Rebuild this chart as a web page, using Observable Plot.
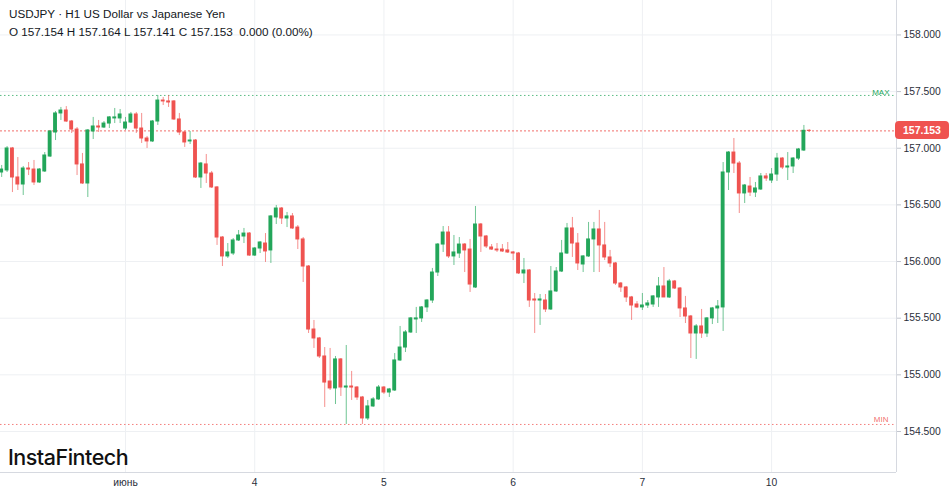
<!DOCTYPE html>
<html><head><meta charset="utf-8">
<script src="https://cdn.jsdelivr.net/npm/d3@7"></script>
<script src="https://cdn.jsdelivr.net/npm/@observablehq/plot@0.6"></script>
<style>
html,body{margin:0;padding:0;background:#fff;}
#wrap{position:relative;width:949px;height:494px;overflow:hidden;font-family:"Liberation Sans",Arial,sans-serif;}
.hdr{position:absolute;left:9px;font-size:11.7px;line-height:14px;color:#131722;white-space:pre;}
#logo{position:absolute;left:8px;top:446px;font-family:Inter,sans-serif;font-weight:500;font-size:21.5px;line-height:22px;color:#111;letter-spacing:-0.5px;}
#tag{position:absolute;left:895px;width:54px;height:18px;border-radius:4px;background:#ef5350;color:#fff;font-size:10.5px;font-weight:bold;line-height:18px;padding-left:8px;box-sizing:border-box;}
</style></head>
<body><div id="wrap"></div>
<script>
const open = [156.786,156.804,156.998,156.742,156.680,156.821,156.812,156.698,156.795,156.927,157.139,157.307,157.333,157.236,157.165,156.857,156.689,157.148,157.192,157.183,157.218,157.263,157.263,157.174,157.227,157.298,157.174,157.086,157.060,157.236,157.421,157.413,157.413,157.254,157.139,157.060,157.068,156.742,156.857,156.777,156.654,156.212,156.045,156.071,156.186,156.221,156.247,156.053,156.115,156.159,156.098,156.389,156.468,156.380,156.398,156.300,156.195,155.956,155.400,155.321,155.162,154.941,154.880,155.136,154.888,154.897,154.888,154.800,154.615,154.721,154.783,154.888,154.844,154.862,155.127,155.241,155.374,155.489,155.498,155.595,155.656,155.903,156.150,156.256,156.045,156.071,156.150,156.106,155.771,156.327,156.221,156.124,156.106,156.106,156.098,156.080,156.071,155.895,155.921,155.665,155.656,155.656,155.577,155.736,155.912,156.071,156.292,156.159,155.974,156.045,156.195,156.283,156.142,156.036,155.983,155.806,155.771,155.683,155.621,155.595,155.612,155.621,155.683,155.780,155.683,155.824,155.762,155.586,155.515,155.365,155.427,155.365,155.498,155.586,155.595,156.786,156.962,156.865,156.601,156.662,156.609,156.636,156.751,156.715,156.768,156.909,156.830,156.839,156.909,156.980,157.154];
const high = [156.848,157.015,157.007,156.918,156.839,156.874,156.892,156.821,156.962,157.157,157.324,157.360,157.368,157.245,157.183,156.954,157.165,157.272,157.245,157.236,157.280,157.351,157.342,157.272,157.316,157.316,157.307,157.104,157.245,157.466,157.448,157.466,157.421,157.307,157.148,157.148,157.077,156.874,156.945,156.795,156.662,156.221,156.159,156.203,156.274,156.292,156.256,156.124,156.177,156.247,156.406,156.495,156.477,156.433,156.424,156.318,156.212,155.965,155.480,155.330,155.241,155.233,155.162,155.144,155.259,155.030,154.897,154.809,154.774,154.800,154.906,154.897,154.880,155.188,155.427,155.391,155.506,155.595,155.603,155.665,155.939,156.159,156.309,156.309,156.230,156.212,156.159,156.195,156.486,156.336,156.230,156.150,156.159,156.150,156.168,156.089,156.080,156.027,155.930,155.718,155.709,155.709,155.956,155.947,156.186,156.336,156.389,156.247,156.053,156.345,156.345,156.451,156.345,156.098,155.992,155.815,155.780,155.692,155.647,155.718,155.656,155.700,155.859,155.947,155.842,155.833,155.771,155.692,155.524,155.444,155.577,155.506,155.595,155.656,156.874,156.971,157.086,156.883,156.680,156.742,156.698,156.777,156.777,156.821,156.954,156.918,156.962,156.918,156.998,157.201,157.164];
const low = [156.742,156.786,156.609,156.627,156.583,156.759,156.671,156.689,156.786,156.918,157.068,157.245,157.227,157.130,156.759,156.680,156.565,157.077,157.139,157.174,157.174,157.218,157.218,157.157,157.218,157.130,157.042,156.998,157.051,157.201,157.377,157.360,157.245,157.112,157.007,157.033,156.733,156.645,156.689,156.645,156.142,155.956,156.027,156.053,156.177,156.159,156.045,156.045,156.071,155.992,155.983,156.327,156.327,156.300,156.283,156.106,155.815,155.365,155.233,155.144,154.712,154.862,154.738,154.809,154.562,154.774,154.774,154.562,154.597,154.712,154.774,154.827,154.800,154.853,155.118,155.197,155.365,155.365,155.462,155.550,155.630,155.868,156.080,156.027,155.965,156.027,155.903,155.727,155.762,156.080,156.115,156.098,156.080,156.080,156.071,156.009,155.886,155.806,155.595,155.365,155.436,155.550,155.568,155.727,155.903,156.062,156.036,155.921,155.903,156.036,155.903,155.903,156.009,155.947,155.789,155.727,155.639,155.480,155.586,155.568,155.586,155.595,155.595,155.683,155.674,155.753,155.506,155.453,155.144,155.136,155.321,155.330,155.444,155.453,155.383,156.627,156.777,156.424,156.512,156.574,156.565,156.627,156.707,156.689,156.707,156.812,156.715,156.777,156.892,156.971,157.141];
const close = [156.812,156.998,156.742,156.680,156.821,156.812,156.698,156.812,156.936,157.148,157.307,157.333,157.236,157.165,156.857,156.689,157.157,157.192,157.183,157.218,157.272,157.272,157.298,157.227,157.298,157.174,157.086,157.060,157.236,157.421,157.413,157.404,157.254,157.139,157.051,157.068,156.742,156.865,156.777,156.654,156.212,156.045,156.080,156.186,156.230,156.247,156.053,156.115,156.168,156.089,156.398,156.468,156.380,156.398,156.292,156.195,155.956,155.400,155.321,155.162,154.932,154.880,155.136,154.888,154.897,154.888,154.800,154.615,154.721,154.783,154.888,154.844,154.871,155.127,155.241,155.374,155.498,155.498,155.595,155.656,155.903,156.150,156.256,156.045,156.080,156.150,156.098,155.797,156.327,156.221,156.133,156.106,156.098,156.089,156.080,156.071,155.895,155.921,155.656,155.656,155.665,155.577,155.736,155.912,156.071,156.292,156.159,155.983,156.045,156.195,156.283,156.142,156.036,155.983,155.806,155.771,155.683,155.612,155.595,155.612,155.630,155.692,155.780,155.683,155.824,155.762,155.586,155.515,155.365,155.427,155.365,155.498,155.586,155.603,156.786,156.962,156.865,156.601,156.671,156.609,156.645,156.751,156.733,156.768,156.909,156.830,156.839,156.909,156.989,157.154,157.153];

const dayStart = [23, 47, 71, 95, 119, 143];
const dayLabel = ["июнь", "4", "5", "6", "7", "10"];
const yTicks = [154.5, 155.0, 155.5, 156.0, 156.5, 157.0, 157.5, 158.0];
const titleText = "USDJPY · H1 US Dollar vs Japanese Yen";
const ohlcText = "O 157.154 H 157.164 L 157.141 C 157.153  0.000 (0.00%)";
const lastPrice = 157.153;

const UP = "#23a65a", DOWN = "#ef5350", GRID = "#eef0f3", BORDER = "#d6d9e0";
const xDomain = [-0.22, 166.2];
const yDomain = [154.138, 158.304];

const data = open.map((o, i) => ({i, o, h: high[i], l: low[i], c: close[i], dir: close[i] >= o ? "up" : "down"}));
const maxHigh = d3.max(high), minLow = d3.min(low);

const chart = Plot.plot({
  width: 949, height: 494,
  marginLeft: 0, marginRight: 53, marginTop: 0, marginBottom: 22,
  style: {fontFamily: "'Liberation Sans', Arial, sans-serif", background: "transparent"},
  x: {domain: xDomain, axis: null},
  y: {domain: yDomain, axis: null},
  color: {domain: ["up", "down"], range: [UP, DOWN]},
  marks: [
    Plot.gridY(yTicks, {stroke: GRID, strokeOpacity: 1}),
    Plot.gridX(dayStart, {stroke: GRID, strokeOpacity: 1}),
    Plot.ruleY([maxHigh], {stroke: UP, strokeOpacity: 0.75, strokeDasharray: "1.5,2.5"}),
    Plot.ruleY([minLow], {stroke: DOWN, strokeOpacity: 0.75, strokeDasharray: "1.5,2.5"}),
    Plot.ruleY([lastPrice], {stroke: DOWN, strokeOpacity: 0.85, strokeDasharray: "2,2"}),
    Plot.text([maxHigh], {y: d => d, frameAnchor: "right", dx: -7, dy: -3, text: () => "MAX", textAnchor: "end", fontSize: 8, fill: UP}),
    Plot.text([minLow], {y: d => d, frameAnchor: "right", dx: -8, dy: -5, text: () => "MIN", textAnchor: "end", fontSize: 8, fill: DOWN, fillOpacity: 0.85}),
    Plot.ruleX(data, {x: "i", y1: "l", y2: "h", stroke: "dir", strokeOpacity: 0.65}),
    Plot.rect(data, {x1: d => d.i - 0.36, x2: d => d.i + 0.36, y1: "o", y2: "c", fill: "dir", insetTop: -0.5, insetBottom: -0.5}),
    Plot.ruleX([xDomain[1]], {stroke: BORDER}),
    Plot.ruleY([yDomain[0]], {stroke: BORDER}),
    Plot.axisY(yTicks, {anchor: "right", tickSize: 4, tickPadding: 3, tickFormat: d3.format(".3f"), fontSize: 10.3, stroke: "#c3c6ce", fill: "#2a2e39"}),
    Plot.text(dayStart, {x: d => d, frameAnchor: "bottom", dy: 13, text: (d, i) => dayLabel[i], fontSize: 10.3, fill: "#2a2e39"})
  ]
});

const wrap = document.getElementById("wrap");
wrap.appendChild(chart);

const h1 = document.createElement("div"); h1.className = "hdr"; h1.style.top = "7px"; h1.textContent = titleText; wrap.appendChild(h1);
const h2 = document.createElement("div"); h2.className = "hdr"; h2.style.top = "25px"; h2.textContent = ohlcText; wrap.appendChild(h2);
const logo = document.createElement("div"); logo.id = "logo"; logo.textContent = "InstaFintech"; wrap.appendChild(logo);
const tag = document.createElement("div"); tag.id = "tag"; tag.textContent = d3.format(".3f")(lastPrice);
tag.style.top = (chart.scale("y").apply(lastPrice) - 9) + "px";
wrap.appendChild(tag);
</script>
</body></html>
